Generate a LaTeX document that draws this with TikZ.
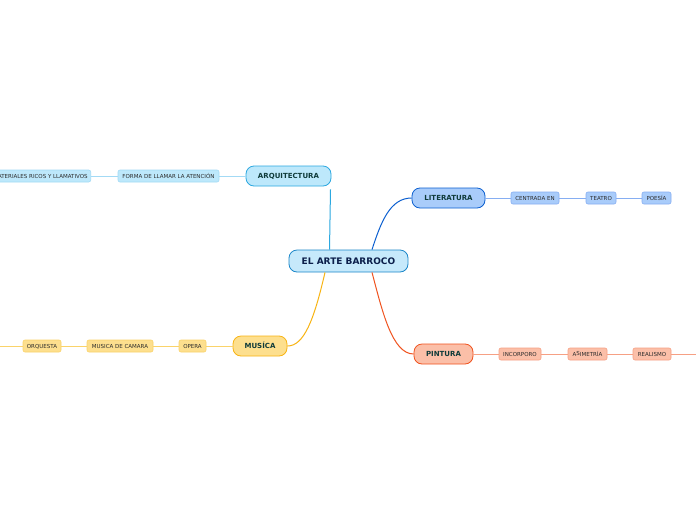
\documentclass[tikz,border=0pt]{standalone}
\usepackage{fontspec}
\setmainfont{DejaVu Sans}
\definecolor{cenfill}{HTML}{C6E9FB}
\definecolor{cenline}{HTML}{1B87C9}
\definecolor{arqfill}{HTML}{BDE8FB}
\definecolor{arqline}{HTML}{2CA8E0}
\definecolor{arqsub}{HTML}{A3DAF5}
\definecolor{litfill}{HTML}{A9CCFA}
\definecolor{litline}{HTML}{0B5FD0}
\definecolor{litsub}{HTML}{86AEF2}
\definecolor{pinfill}{HTML}{FBBFA8}
\definecolor{pinline}{HTML}{F0531F}
\definecolor{pinsub}{HTML}{F6A084}
\definecolor{musfill}{HTML}{FDDF8E}
\definecolor{musline}{HTML}{F8B414}
\definecolor{mussub}{HTML}{FAD36A}
\definecolor{maintext}{HTML}{0F3B3A}
\definecolor{centext}{HTML}{0B1E4A}
\definecolor{subtext}{HTML}{2B2B2B}
\tikzset{
  central/.style={draw=cenline, fill=cenfill, line width=0.8pt, rounded corners=8pt,
    minimum width=119pt, minimum height=22pt, inner sep=0pt,
    text height=6.6pt, text depth=0pt,
    font=\fontsize{9}{10}\selectfont\bfseries, text=centext},
  mainbox/.style={draw=#1line, fill=#1fill, line width=0.8pt, rounded corners=8pt,
    minimum height=20pt, inner sep=0pt, text height=5.1pt, text depth=0pt,
    font=\fontsize{7}{8}\selectfont\bfseries, text=maintext},
  subbox/.style={draw=#1sub, fill=#1fill, line width=0.6pt, rounded corners=2pt,
    minimum height=12pt, inner sep=0pt, inner xsep=3pt,
    text height=4pt, text depth=0pt,
    font=\fontsize{5.5}{6}\selectfont, text=subtext},
  subcon/.style={draw=#1sub, line width=0.7pt},
  maincon/.style={draw=#1line, line width=1pt},
}
\begin{document}
\begin{tikzpicture}[x=1pt,y=-1pt]
\useasboundingbox (0,0) rectangle (696,520);
\fill[white] (0,0) rectangle (696,520);
\clip (0,0) rectangle (696,520);

% central
\node[central] (c) at (348.5,261) {EL ARTE BARROCO};

% main topics
\node[mainbox=arq, minimum width=85pt] (arq) at (288.5,176) {ARQUITECTURA};
\node[mainbox=lit, minimum width=73pt] (lit) at (448.5,198) {LITERATURA};
\node[mainbox=pin, minimum width=59pt] (pin) at (443.5,354) {PINTURA};
\node[mainbox=mus, minimum width=54pt] (mus) at (260,346) {MUSÍCA};

% arquitectura subtopics
\node[subbox=arq, minimum width=101pt] (a1) at (168.5,176) {FORMA DE LLAMAR LA ATENCIÓN};
\node[subbox=arq, anchor=east] (a2) at (91,176) {MATERIALES RICOS Y LLAMATIVOS};

% literatura subtopics
\node[subbox=lit, minimum width=48pt] (l1) at (535,198) {CENTRADA EN};
\node[subbox=lit, minimum width=30pt] (l2) at (601,198) {TEATRO};
\node[subbox=lit, minimum width=29pt] (l3) at (656.5,198) {POESÍA};

% pintura subtopics
\node[subbox=pin, minimum width=42pt] (p1) at (520,354) {INCORPORO};
\node[subbox=pin, minimum width=39pt] (p2) at (587.5,354) {A\raisebox{1pt}{S}IMETRÍA};
\node[subbox=pin, minimum width=38pt] (p3) at (652,354) {REALISMO};
\coordinate (pend) at (700,354);

% musica subtopics
\node[subbox=mus, minimum width=27pt] (m1) at (192.5,346) {OPERA};
\node[subbox=mus, minimum width=66pt] (m2) at (120,346) {MUSICA DE CAMARA};
\node[subbox=mus, minimum width=38pt] (m3) at (42,346) {ORQUESTA};
\coordinate (mend) at (-4,346);

% main connectors
\draw[maincon=arq] ([xshift=-19pt]c.north) -- ([xshift=42pt,yshift=-3pt]arq.south);
\draw[maincon=lit] ([xshift=23.5pt]c.north) .. controls (381,222) and (390,198) .. (lit.west);
\draw[maincon=pin] ([xshift=23.5pt]c.south) .. controls (382,310) and (392,354) .. (pin.west);
\draw[maincon=mus] ([xshift=-23.5pt]c.south) .. controls (314,320) and (304,346) .. (mus.east);

% sub connectors
\draw[subcon=arq] (arq.west) -- (a1.east);
\draw[subcon=arq] (a1.west) -- (a2.east);
\draw[subcon=lit] (lit.east) -- (l1.west);
\draw[subcon=lit] (l1.east) -- (l2.west);
\draw[subcon=lit] (l2.east) -- (l3.west);
\draw[subcon=pin] (pin.east) -- (p1.west);
\draw[subcon=pin] (p1.east) -- (p2.west);
\draw[subcon=pin] (p2.east) -- (p3.west);
\draw[subcon=pin] (p3.east) -- (pend);
\draw[subcon=mus] (mus.west) -- (m1.east);
\draw[subcon=mus] (m1.west) -- (m2.east);
\draw[subcon=mus] (m2.west) -- (m3.east);
\draw[subcon=mus] (m3.west) -- (mend);
\end{tikzpicture}
\end{document}
